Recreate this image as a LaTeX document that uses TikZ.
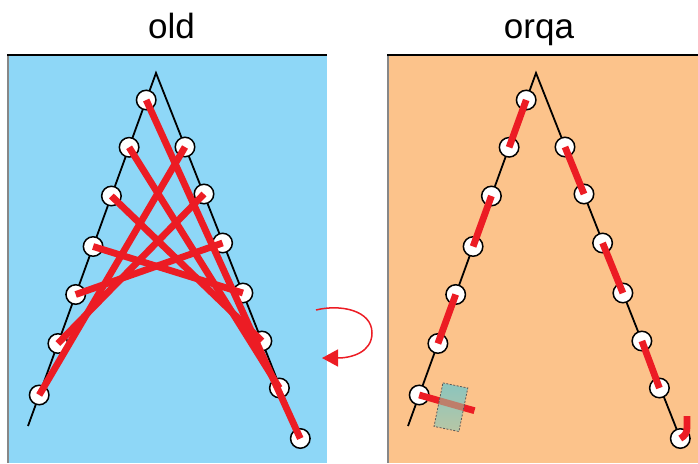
\documentclass[tikz,border=0pt]{standalone}
\usepackage{fontspec}
\setmainfont{Liberation Sans}
\usetikzlibrary{arrows.meta}
\definecolor{panelblue}{RGB}{142,215,247}
\definecolor{panelorange}{RGB}{252,195,139}
\definecolor{thread}{RGB}{236,28,36}
\definecolor{tapetop}{RGB}{139,197,190}
\definecolor{tapebot}{RGB}{183,198,165}
\definecolor{tapethread}{RGB}{190,126,106}
\definecolor{edgegray}{RGB}{135,135,135}
\begin{document}
\begin{tikzpicture}[x=1pt,y=-1pt,
  hole/.style={circle,draw=black,line width=1.5pt,fill=white,minimum size=19.5pt,inner sep=0pt},
  leg/.style={line width=1.8pt,black,line join=miter},
  threadline/.style={line width=6.8pt,thread},
  title/.style={font=\fontsize{35}{40}\selectfont,anchor=base},
  topline/.style={line width=2pt,black},
  sideline/.style={line width=1.8pt,edgegray},
  tapefill/.style={rotate=-11.6,minimum width=25pt,minimum height=44pt,inner sep=0pt,top color=tapetop,bottom color=tapebot},
  tapeborder/.style={draw=black!65,line width=0.8pt,dash pattern=on 2pt off 1.5pt},
  turnarrow/.style={thread,line width=1.5pt,-{Triangle[length=16pt,width=17pt]}}]
\useasboundingbox (0,0) rectangle (698,463);
% panels
\fill[panelblue] (8,55) rectangle (327,463);
\fill[panelorange] (388,55) rectangle (698,463);
\draw[sideline] (7.6,55) -- (7.6,463);
\draw[sideline] (387.6,55) -- (387.6,463);
\draw[topline] (7,55) -- (327,55);
\draw[topline] (387,55) -- (698,55);
% titles
\node[title] (told) at (171.5,38) {old};
\node[title] (torqa) at (539,38) {orqa};
% legs
\coordinate (fA) at (156,73);
\coordinate (fB) at (28,426);
\coordinate (fC) at (300.3,438.5);
\coordinate (bA) at (536,73);
\coordinate (bB) at (408,426);
\coordinate (bC) at (680.3,438.5);
\draw[leg] (fB) -- (fA) -- (fC);
\draw[leg] (bB) -- (bA) -- (bC);
% holes
\foreach \i/\x/\y in {1/146.2/100,2/129.1/147.3,3/111.4/196,4/93.1/246.5,5/75.7/294.5,6/57.9/343.5,7/39.2/395}{
  \node[hole] (fL\i) at (\x,\y) {};
  \node[hole] (bL\i) at (\x+380,\y) {};
}
\foreach \i/\x/\y in {1/185/147,2/204/194,3/222.6/243,4/242.9/293,5/261.9/341,6/279.4/388,7/300.3/438.5}{
  \node[hole] (fR\i) at (\x,\y) {};
  \node[hole] (bR\i) at (\x+380,\y) {};
}
% front threads
\foreach \i in {1,...,7}{
  \pgfmathtruncatemacro\j{8-\i}
  \draw[threadline] (fL\i.center) -- (fR\j.center);
}
% back threads
\foreach \a/\b in {1/2,3/4,5/6}{
  \draw[threadline] (bL\a.center) -- (bL\b.center);
  \draw[threadline] (bR\a.center) -- (bR\b.center);
}
\coordinate (stubend) at (474.5,410.7);
\draw[threadline] (bL7.center) -- (stubend);
% tape
\node[tapefill] (tape) at (450.9,407.2) {};
\begin{scope}
  \clip (tape.north west) -- (tape.north east) -- (tape.south east) -- (tape.south west) -- cycle;
  \draw[line width=6.8pt,tapethread] (bL7.center) -- (stubend);
\end{scope}
\draw[tapeborder] (tape.north west) -- (tape.north east) -- (tape.south east) -- (tape.south west) -- cycle;
% thread end at last hole
\coordinate (hooktop) at (687,416);
\draw[threadline] (bR7.center) .. controls (685,436) and (687,433) .. (687,427) -- (hooktop);
% turn arrow
\coordinate (arrS) at (316,310);
\coordinate (arrE) at (322,358);
\draw[turnarrow] (arrS) .. controls (340,304) and (372,310) .. (372,333) .. controls (372,352) and (352,358) .. (arrE);
\end{tikzpicture}
\end{document}
